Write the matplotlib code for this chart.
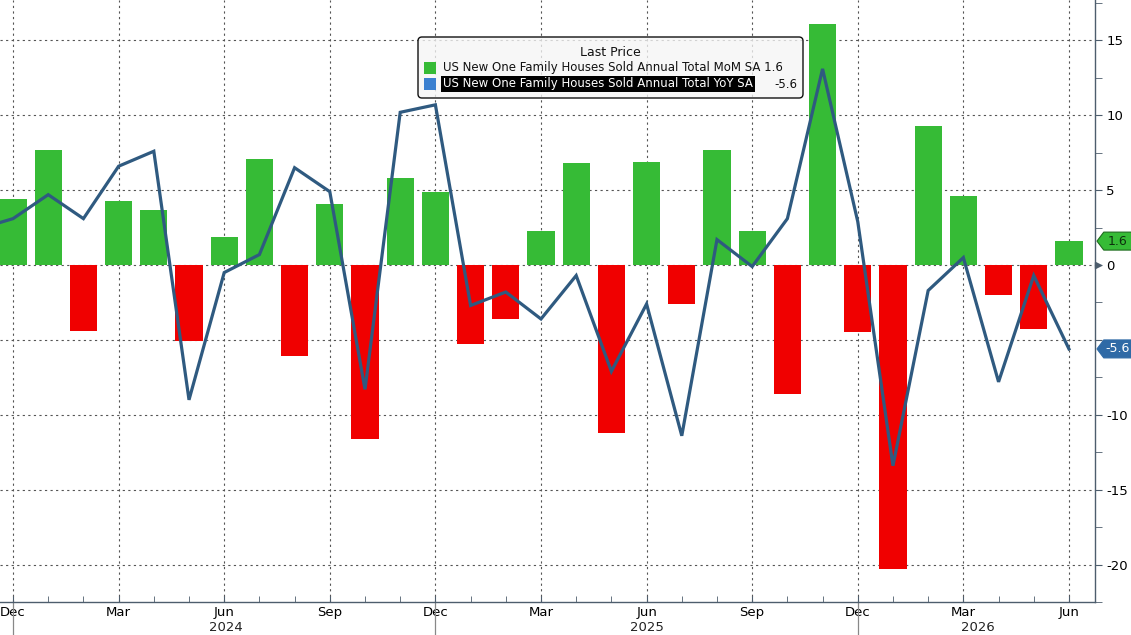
import matplotlib
matplotlib.use("Agg")
import matplotlib.pyplot as plt
import matplotlib.transforms as mtransforms
from matplotlib.patches import Polygon, FancyBboxPatch, Rectangle
from matplotlib.ticker import FixedLocator, MultipleLocator
import pandas as pd

# ── Data ─────────────────────────────────────────────────────────────────
mom_months = pd.date_range("2023-12-01", "2026-06-01", freq="MS")
mom_sa = [4.4, 7.7, -4.4, 4.3, 3.7, -5.1, 1.9, 7.1, -6.1, 4.1, -11.6, 5.8,
          4.9, -5.3, -3.6, 2.3, 6.8, -11.2, 6.9, -2.6, 7.7, 2.3, -8.6, 16.1,
          -4.5, -20.3, 9.3, 4.6, -2.0, -4.3, 1.6]

yoy_months = pd.date_range("2023-11-01", "2026-06-01", freq="MS")
yoy_sa = [2.4, 3.1, 4.7, 3.1, 6.6, 7.6, -9.0, -0.5, 0.7, 6.5, 4.9, -8.3,
          10.2, 10.7, -2.7, -1.8, -3.6, -0.7, -7.1, -2.6, -11.4, 1.7, -0.1,
          3.1, 13.1, 2.9, -13.4, -1.7, 0.5, -7.8, -0.7, -5.6]

mom_label = "US New One Family Houses Sold Annual Total MoM SA"
yoy_label = "US New One Family Houses Sold Annual Total YoY SA"
y_ticks = [-20, -15, -10, -5, 0, 5, 10, 15]
# -5 sits under the YoY value tag in the original, so its label is hidden
y_tick_labels = ["-20", "-15", "-10", "", "0", "5", "10", "15"]
year_labels = [("2024", 6.05), ("2025", 18.0), ("2026", 27.4)]

GREEN = "#36bb36"
RED = "#f00000"
LINE = "#2f5a80"
SPINE = "#4d5d6d"
W, H = 1131, 635


def month_idx(d):
    # months since Dec 2023
    return (d.year - 2023) * 12 + d.month - 12


x_mom = [month_idx(d) for d in mom_months]
x_yoy = [month_idx(d) for d in yoy_months]

fig = plt.figure(figsize=(W / 100, H / 100), dpi=100)
ax = fig.add_axes([0, 33 / H, 1095 / W, 1 - 33 / H])
ax.set_xlim(-0.37, 30.74)
ax.set_ylim(-22.5, 17.7)

ax.bar(x_mom, mom_sa, width=0.77,
       color=[GREEN if v >= 0 else RED for v in mom_sa], zorder=2)
ax.plot(x_yoy, yoy_sa, color=LINE, lw=2.3, zorder=3, solid_joinstyle="miter")

# ── Axes styling ─────────────────────────────────────────────────────────
for s in ("left", "top"):
    ax.spines[s].set_visible(False)
for s in ("right", "bottom"):
    ax.spines[s].set_color(SPINE)
    ax.spines[s].set_linewidth(1.0)

ax.yaxis.tick_right()
ax.set_yticks(y_ticks)
ax.set_yticklabels(y_tick_labels)
ax.yaxis.set_minor_locator(MultipleLocator(2.5))
ax.tick_params(axis="y", which="both", direction="out", length=5,
               color=SPINE, labelsize=9.5, pad=3)

q_pos = [i for i, d in zip(x_mom, mom_months) if d.month in (3, 6, 9, 12)]
q_lab = [d.strftime("%b") for d in mom_months if d.month in (3, 6, 9, 12)]
ax.xaxis.set_major_locator(FixedLocator(q_pos))
ax.set_xticklabels(q_lab)
ax.xaxis.set_minor_locator(FixedLocator(x_mom))
ax.tick_params(axis="x", which="both", direction="in", length=4,
               color=SPINE, labelsize=9.5, pad=3)

ax.grid(True, which="major", linestyle=(0, (2, 3)), color="#555555",
        linewidth=0.8, zorder=0)
ax.set_axisbelow(True)

# year separators + year labels under the axis
xb = mtransforms.blended_transform_factory(ax.transData, ax.transAxes)
for i, d in zip(x_mom, mom_months):
    if d.month == 12:
        ax.plot([i, i], [0, -0.06], transform=xb, color="#888888",
                lw=0.9, clip_on=False)
for txt, xi in year_labels:
    ax.text(xi, -0.042, txt, transform=xb, ha="center", va="center",
            fontsize=9.5, color="#222222")

# ── Right-side value tags ────────────────────────────────────────────────
yb = mtransforms.blended_transform_factory(ax.transAxes, ax.transData)
ax.plot([1.003], [0], marker=">", ms=5, color=SPINE, transform=yb,
        clip_on=False, zorder=6)


def value_tag(val, face, edge, txt_color):
    x0, xb0, x1 = 1.0018, 1.008, 1.034
    hh = 0.6
    ax.add_patch(Polygon([(x0, val), (xb0, val + hh), (x1, val + hh),
                          (x1, val - hh), (xb0, val - hh)], closed=True,
                         transform=yb, facecolor=face, edgecolor=edge,
                         lw=0.8, clip_on=False, zorder=10))
    ax.text(1.0205, val, f"{val:.1f}", transform=yb, ha="center",
            va="center", fontsize=9, color=txt_color, clip_on=False,
            zorder=11)


value_tag(mom_sa[-1], GREEN, "#1d6b1d", "#0d2f0d")
value_tag(yoy_sa[-1], "#2f6aa6", "#2f6aa6", "white")

# ── Legend box (pixel overlay) ───────────────────────────────────────────
ov = fig.add_axes([0, 0, 1, 1], zorder=5)
ov.set_xlim(0, W)
ov.set_ylim(H, 0)
ov.axis("off")
ov.patch.set_visible(False)

ov.add_patch(FancyBboxPatch((418, 37), 385, 61,
                            boxstyle="round,pad=0,rounding_size=4",
                            facecolor=(0.96, 0.96, 0.96, 0.78),
                            edgecolor="#111111", lw=1.0))
ov.text(610, 52, "Last Price", ha="center", va="center", fontsize=9,
        color="#111111")
ov.add_patch(Rectangle((424, 62), 12, 12, facecolor=GREEN, edgecolor="none"))
ov.add_patch(Rectangle((424, 78), 12, 12, facecolor="#3b80d0",
                       edgecolor="none"))
ov.text(443, 68, f"{mom_label} {mom_sa[-1]:.1f}", ha="left", va="center",
        fontsize=8.5, color="#111111")
ov.text(443, 84, yoy_label, ha="left", va="center", fontsize=8.5,
        color="white",
        bbox=dict(facecolor="black", edgecolor="none", pad=1.2))
ov.text(797, 84, f"{yoy_sa[-1]:.1f}", ha="right", va="center", fontsize=8.5,
        color="#111111")

fig.savefig("out.png", dpi=100)
